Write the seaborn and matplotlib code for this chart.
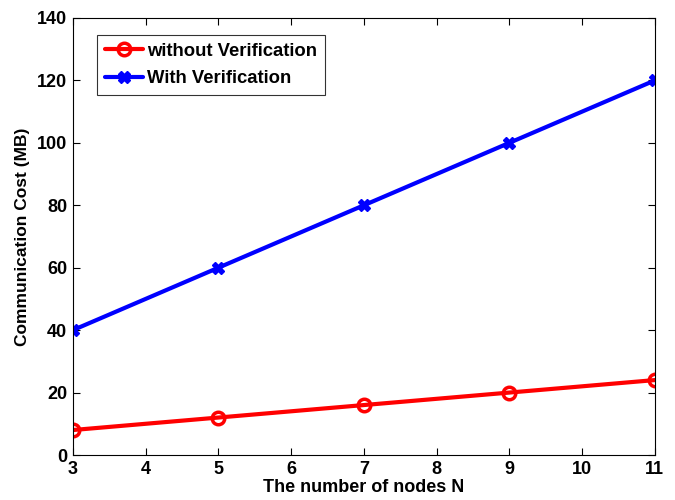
import matplotlib
matplotlib.use("Agg")
import matplotlib.pyplot as plt
import seaborn as sns
import pandas as pd

nodes = [3, 5, 7, 9, 11]
without_verif = [8, 12, 16, 20, 24]
with_verif = [40, 60, 80, 100, 120]
x_ticks = [3, 4, 5, 6, 7, 8, 9, 10, 11]
y_ticks = [0, 20, 40, 60, 80, 100, 120, 140]

sns.set_theme(style="white")
plt.rcParams['font.family'] = ['Liberation Sans', 'DejaVu Sans']
plt.rcParams['font.weight'] = 'bold'
plt.rcParams['text.color'] = 'black'
plt.rcParams['axes.labelcolor'] = 'black'
plt.rcParams['xtick.color'] = 'black'
plt.rcParams['ytick.color'] = 'black'

df = pd.DataFrame({
    "N": nodes * 2,
    "cost": without_verif + with_verif,
    "series": ["without Verification"] * 5 + ["With Verification"] * 5,
})

fig = plt.figure(figsize=(6.75, 5), dpi=100)
ax = fig.add_axes([0.108, 0.09, 0.862, 0.874])

sns.lineplot(data=df[df.series == "without Verification"], x="N", y="cost", ax=ax,
             color="red", linewidth=3, marker="o", markersize=9, markerfacecolor="none",
             markeredgecolor="red", markeredgewidth=2.5, label="without Verification")
sns.lineplot(data=df[df.series == "With Verification"], x="N", y="cost", ax=ax,
             color="blue", linewidth=3, marker="X", markersize=8, markerfacecolor="blue",
             markeredgecolor="blue", markeredgewidth=1, label="With Verification")

ax.set_xlim(3, 11)
ax.set_ylim(0, 140)
ax.set_xticks(x_ticks)
ax.set_yticks(y_ticks)
ax.tick_params(direction="in", length=5, width=0.8, labelsize=13, colors="black", pad=4,
               top=True, right=True, bottom=True, left=True)
for lab in ax.get_xticklabels() + ax.get_yticklabels():
    lab.set_fontweight("bold")
for s in ax.spines.values():
    s.set_color("black")
    s.set_linewidth(0.8)
    s.set_visible(True)
ax.set_xlabel("The number of nodes N", fontsize=13, fontweight="bold", labelpad=1)
ax.set_ylabel("Communication Cost (MB)", fontsize=12.5, fontweight="bold", labelpad=5)

leg = ax.legend(loc="upper left", bbox_to_anchor=(0.041, 0.961), fontsize=13.3, frameon=True,
                fancybox=False, edgecolor="black", handlelength=2.1, handletextpad=0.2,
                borderpad=0.42, labelspacing=0.57, borderaxespad=0)
leg.get_frame().set_linewidth(0.8)
for t in leg.get_texts():
    t.set_fontweight("bold")

fig.savefig("out.png", dpi=100)
